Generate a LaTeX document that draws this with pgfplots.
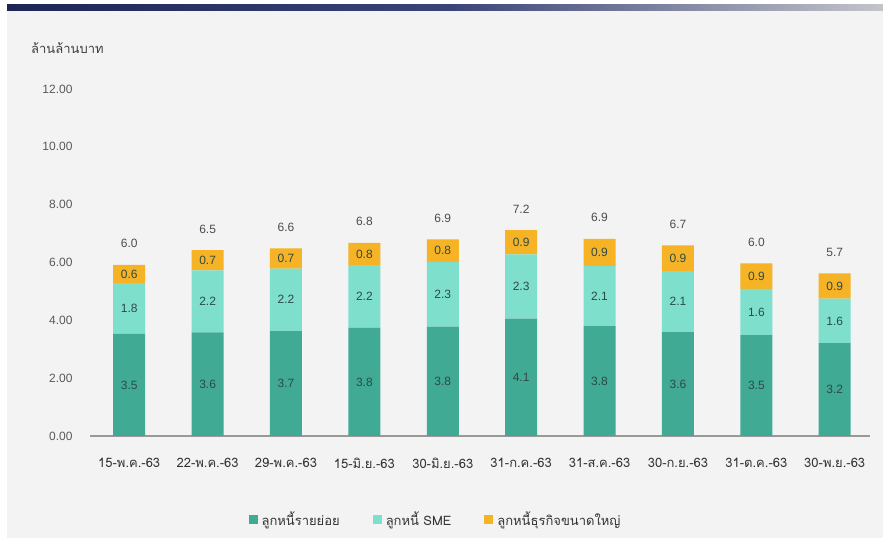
\documentclass[border=0pt]{standalone}
\usepackage{pgfplots}
\pgfplotsset{compat=1.18}
\usepackage{pgfplotstable}
\usepackage{fontspec}
\setmainfont{Liberation Sans}
\newfontfamily\thaifont[Script=Thai]{Loma}
\definecolor{cRetail}{HTML}{40AA95}
\definecolor{cSME}{HTML}{7EDFCD}
\definecolor{cLarge}{HTML}{F5B325}
\definecolor{bgGrey}{HTML}{F3F3F3}
\definecolor{tickGrey}{HTML}{595959}
\definecolor{valText}{HTML}{2E4A46}
\definecolor{navyA}{HTML}{1C2554}
\definecolor{navyB}{HTML}{3A4478}
\definecolor{navyC}{HTML}{C4C4CA}

% r, s, l: segment heights; lr, ls, ll, t: printed labels
\pgfplotstableread{
x r    s    l    lr  ls  ll  t
0 3.53 1.76 0.63 3.5 1.8 0.6 6.0
1 3.58 2.15 0.70 3.6 2.2 0.7 6.5
2 3.63 2.16 0.70 3.7 2.2 0.7 6.6
3 3.74 2.17 0.77 3.8 2.2 0.8 6.8
4 3.78 2.23 0.79 3.8 2.3 0.8 6.9
5 4.06 2.22 0.84 4.1 2.3 0.9 7.2
6 3.80 2.08 0.94 3.8 2.1 0.9 6.9
7 3.59 2.11 0.89 3.6 2.1 0.9 6.7
8 3.49 1.60 0.88 3.5 1.6 0.9 6.0
9 3.21 1.54 0.87 3.2 1.6 0.9 5.7
}\debt

\pgfplotsset{
  frame/.style={
    at={(90pt,107pt)}, anchor=south west,
    scale only axis, width=780pt, height=347pt,
    xmin=-0.5, xmax=9.45, ymin=0, ymax=12,
  },
  vlabel/.style={
    draw=none, mark=none, point meta=explicit,
    nodes near coords={\pgfmathprintnumber[fixed,fixed zerofill,precision=1,assume math mode=true]{\pgfplotspointmeta}},
    every node near coord/.append style={anchor=center, text=#1, font=\fontsize{12}{14}\selectfont},
  },
}

\begin{document}
\begin{tikzpicture}
\path[use as bounding box] (0,0) rectangle (883pt,543pt);
\fill[bgGrey] (7pt,5pt) rectangle (883pt,532pt);
\shade[left color=navyA, right color=navyB] (7pt,532pt) rectangle (450pt,538pt);
\shade[left color=navyB, right color=navyC] (449.5pt,532pt) rectangle (883pt,538pt);
\node[anchor=west, text=black!75, font=\thaifont\fontsize{13}{15}\selectfont, inner sep=0pt] at (31pt,495pt) {ล้านล้านบาท};

\begin{axis}[
  frame,
  ybar stacked, bar width=32pt,
  axis lines*=left,
  y axis line style={draw=none},
  x axis line style={draw=black!40, line width=1.3pt},
  tick style={draw=none},
  major tick length=0pt,
  ytick={0,2,...,12},
  yticklabel style={/pgf/number format/fixed, /pgf/number format/fixed zerofill, /pgf/number format/precision=2, /pgf/number format/assume math mode=true},
  yticklabel style={text=tickGrey, font=\fontsize{12}{14}\selectfont, xshift=-14pt},
  xtick={0,...,9},
  xticklabels={15-พ.ค.-63,22-พ.ค.-63,29-พ.ค.-63,15-มิ.ย.-63,30-มิ.ย.-63,31-ก.ค.-63,31-ส.ค.-63,30-ก.ย.-63,31-ต.ค.-63,30-พ.ย.-63},
  xticklabel style={text=black!80, font=\thaifont\fontsize{13}{15}\selectfont, yshift=-19pt},
  legend columns=3,
  legend style={draw=none, fill=none, at={(0.443,-0.240)}, anchor=center,
    font=\thaifont\fontsize{13}{15}\selectfont, text=black!80,
    /tikz/every even column/.append style={column sep=31pt}},
  legend cell align=left,
  legend image code/.code={\fill[#1] (0pt,-4.5pt) rectangle (9pt,4.5pt); \path (0pt,0pt) -- (11pt,0pt);},
]
\addplot[fill=cRetail, draw=none] table[x=x, y=r] {\debt};
\addplot[fill=cSME, draw=none] table[x=x, y=s] {\debt};
\addplot[fill=cLarge, draw=none] table[x=x, y=l] {\debt};
\legend{ลูกหนี้รายย่อย, ลูกหนี้ SME, ลูกหนี้ธุรกิจขนาดใหญ่}
\end{axis}

\begin{axis}[frame, hide axis]
\addplot[vlabel=valText] table[x=x, y expr=\thisrow{r}/2, meta=lr] {\debt};
\addplot[vlabel=valText] table[x=x, y expr=\thisrow{r}+\thisrow{s}/2, meta=ls] {\debt};
\addplot[vlabel=valText] table[x=x, y expr=\thisrow{r}+\thisrow{s}+\thisrow{l}/2, meta=ll] {\debt};
\addplot[vlabel=black!70, every node near coord/.append style={yshift=21pt}] table[x=x, y expr=\thisrow{r}+\thisrow{s}+\thisrow{l}, meta=t] {\debt};
\end{axis}
\end{tikzpicture}
\end{document}
